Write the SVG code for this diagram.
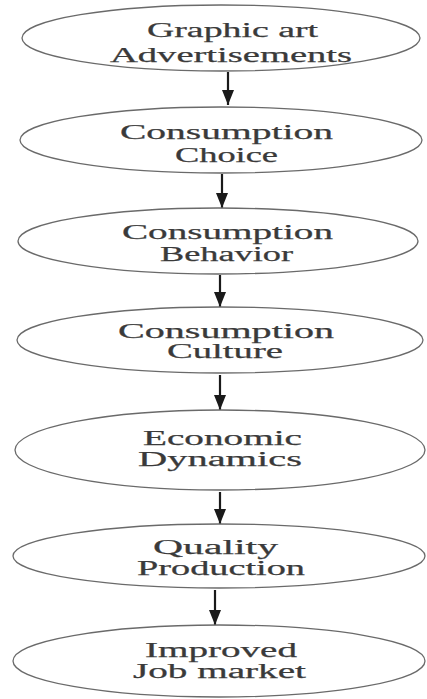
<svg xmlns="http://www.w3.org/2000/svg" width="427" height="699" viewBox="0 0 427 699">
  <style>
    .node ellipse { fill: #ffffff; stroke: #6a6a6a; stroke-width: 1.3; }
    .node text { font-family: "Liberation Serif", "Times New Roman", serif; font-size: 20.5px; fill: #3a3a3a; stroke: #3a3a3a; stroke-width: 0.25; }
    .links line { stroke: #1a1a1a; stroke-width: 2.2; }
  </style>
  <defs>
    <marker id="arrowhead" viewBox="0 0 10 8" refX="10" refY="4" markerWidth="7" markerHeight="5.6" orient="auto" markerUnits="strokeWidth">
      <path d="M0,0 L10,4 L0,8 Z" fill="#1a1a1a"/>
    </marker>
  </defs>
  <rect width="427" height="699" fill="#ffffff"/>

  <g class="links">
    <line x1="228" y1="72" x2="228" y2="105" marker-end="url(#arrowhead)"/>
    <line x1="222" y1="174" x2="222" y2="208" marker-end="url(#arrowhead)"/>
    <line x1="220" y1="275" x2="220" y2="307" marker-end="url(#arrowhead)"/>
    <line x1="220" y1="375" x2="220" y2="410" marker-end="url(#arrowhead)"/>
    <line x1="220" y1="492" x2="220" y2="524" marker-end="url(#arrowhead)"/>
    <line x1="215" y1="590" x2="215" y2="625" marker-end="url(#arrowhead)"/>
  </g>

  <g id="node-graphic-art" class="node">
    <ellipse cx="221" cy="38" rx="199" ry="33"/>
    <text x="147" y="37" textLength="171" lengthAdjust="spacingAndGlyphs">Graphic art</text>
    <text x="110" y="62" textLength="242" lengthAdjust="spacingAndGlyphs">Advertisements</text>
  </g>

  <g id="node-consumption-choice" class="node">
    <ellipse cx="221" cy="140" rx="201" ry="33"/>
    <text x="120" y="139" textLength="213" lengthAdjust="spacingAndGlyphs">Consumption</text>
    <text x="175" y="162" textLength="103" lengthAdjust="spacingAndGlyphs">Choice</text>
  </g>

  <g id="node-consumption-behavior" class="node">
    <ellipse cx="218" cy="241" rx="200" ry="33"/>
    <text x="122" y="239" textLength="211" lengthAdjust="spacingAndGlyphs">Consumption</text>
    <text x="160" y="261" textLength="133" lengthAdjust="spacingAndGlyphs">Behavior</text>
  </g>

  <g id="node-consumption-culture" class="node">
    <ellipse cx="220" cy="340" rx="203" ry="33"/>
    <text x="118" y="338" textLength="216" lengthAdjust="spacingAndGlyphs">Consumption</text>
    <text x="167" y="358" textLength="116" lengthAdjust="spacingAndGlyphs">Culture</text>
  </g>

  <g id="node-economic-dynamics" class="node">
    <ellipse cx="220" cy="450" rx="205" ry="40"/>
    <text x="143" y="445" textLength="159" lengthAdjust="spacingAndGlyphs">Economic</text>
    <text x="138" y="466" textLength="164" lengthAdjust="spacingAndGlyphs">Dynamics</text>
  </g>

  <g id="node-quality-production" class="node">
    <ellipse cx="219" cy="556" rx="206" ry="32"/>
    <text x="153" y="554" textLength="125" lengthAdjust="spacingAndGlyphs">Quality</text>
    <text x="137" y="575" textLength="168" lengthAdjust="spacingAndGlyphs">Production</text>
  </g>

  <g id="node-improved-job-market" class="node">
    <ellipse cx="219" cy="661" rx="206" ry="36"/>
    <text x="145" y="657" textLength="152" lengthAdjust="spacingAndGlyphs">Improved</text>
    <text x="133" y="678" textLength="173" lengthAdjust="spacingAndGlyphs">Job market</text>
  </g>
</svg>
